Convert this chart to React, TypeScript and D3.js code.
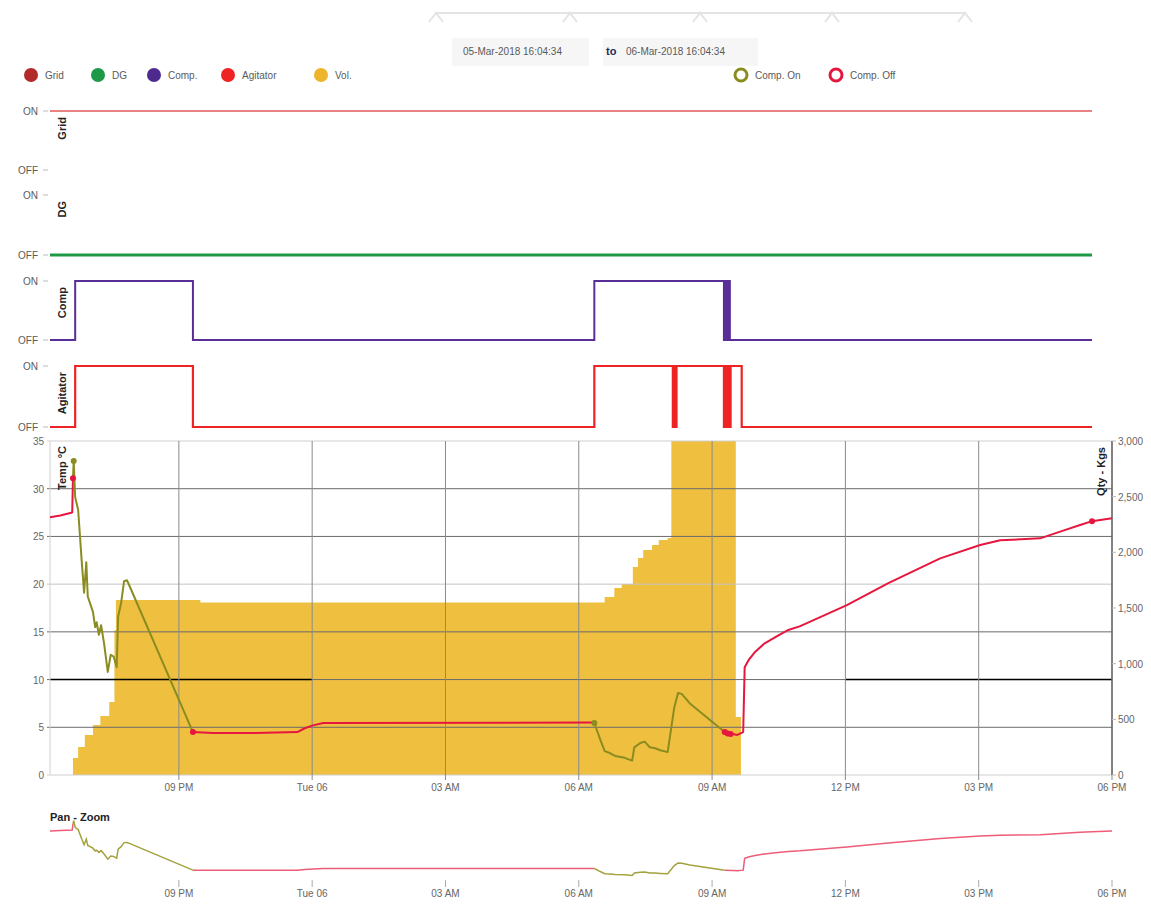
import React from 'react';
import * as d3 from 'd3';

const parse = d3.timeParse('%Y-%m-%d %H:%M');
const D = (s: string) => parse(s) as Date;

// ---------- data ----------
const timeDomain = ['2018-03-05 18:06', '2018-03-06 18:00'];
const dateFrom = '05-Mar-2018 16:04:34';
const dateTo = '06-Mar-2018 16:04:34';

const legendItems = ['Grid', 'DG', 'Comp.', 'Agitator', 'Vol.'];
const markerLegend = ['Comp. On', 'Comp. Off'];

const gridStatus: [string, number][] = [
  ['2018-03-05 18:06', 1], ['2018-03-06 17:33', 1],
];
const dgStatus: [string, number][] = [
  ['2018-03-05 18:06', 0], ['2018-03-06 17:33', 0],
];
const compStatus: [string, number][] = [
  ['2018-03-05 18:06', 0], ['2018-03-05 18:40', 1], ['2018-03-05 21:19', 0],
  ['2018-03-06 06:21', 1], ['2018-03-06 09:16', 0], ['2018-03-06 09:17', 1],
  ['2018-03-06 09:18', 0], ['2018-03-06 09:19', 1], ['2018-03-06 09:20', 0],
  ['2018-03-06 09:21', 1], ['2018-03-06 09:22', 0], ['2018-03-06 09:23', 1],
  ['2018-03-06 09:24', 0], ['2018-03-06 17:33', 0],
];
const agitatorStatus: [string, number][] = [
  ['2018-03-05 18:06', 0], ['2018-03-05 18:40', 1], ['2018-03-05 21:19', 0],
  ['2018-03-06 06:21', 1], ['2018-03-06 08:07', 0], ['2018-03-06 08:08', 1],
  ['2018-03-06 08:09', 0], ['2018-03-06 08:10', 1], ['2018-03-06 08:11', 0],
  ['2018-03-06 08:12', 1], ['2018-03-06 09:16', 0], ['2018-03-06 09:17', 1],
  ['2018-03-06 09:18', 0], ['2018-03-06 09:19', 1], ['2018-03-06 09:20', 0],
  ['2018-03-06 09:21', 1], ['2018-03-06 09:22', 0], ['2018-03-06 09:23', 1],
  ['2018-03-06 09:24', 0], ['2018-03-06 09:25', 1], ['2018-03-06 09:40', 0],
  ['2018-03-06 17:33', 0],
];

const volumeKg: [string, number][] = [
  ['2018-03-05 18:37', 153], ['2018-03-05 18:44', 251], ['2018-03-05 18:53', 359],
  ['2018-03-05 19:04', 449], ['2018-03-05 19:14', 530], ['2018-03-05 19:26', 656],
  ['2018-03-05 19:33', 1300], ['2018-03-05 19:35', 1572], ['2018-03-05 21:29', 1550],
  ['2018-03-06 06:35', 1599], ['2018-03-06 06:48', 1680],
  ['2018-03-06 06:58', 1716], ['2018-03-06 07:13', 1868], ['2018-03-06 07:20', 1949],
  ['2018-03-06 07:27', 2021], ['2018-03-06 07:39', 2066], ['2018-03-06 07:48', 2111],
  ['2018-03-06 08:00', 2129], ['2018-03-06 08:05', 3000], ['2018-03-06 09:32', 520],
  ['2018-03-06 09:39', 0],
];

// temperature segments (compressor off = red, on = olive)
const tempOff1: [string, number][] = [
  ['2018-03-05 18:06', 27.0], ['2018-03-05 18:20', 27.2], ['2018-03-05 18:36', 27.5],
  ['2018-03-05 18:37', 31.1],
];
const tempOn1: [string, number][] = [
  ['2018-03-05 18:37', 31.1], ['2018-03-05 18:38', 32.9], ['2018-03-05 18:40', 29.1],
  ['2018-03-05 18:44', 27.8], ['2018-03-05 18:49', 22.2], ['2018-03-05 18:52', 19.1],
  ['2018-03-05 18:55', 22.3], ['2018-03-05 18:57', 18.7], ['2018-03-05 19:04', 17.1],
  ['2018-03-05 19:07', 15.5], ['2018-03-05 19:09', 16.0], ['2018-03-05 19:12', 14.7],
  ['2018-03-05 19:15', 15.7], ['2018-03-05 19:19', 13.8], ['2018-03-05 19:24', 10.8],
  ['2018-03-05 19:28', 12.6], ['2018-03-05 19:32', 12.4], ['2018-03-05 19:36', 11.3],
  ['2018-03-05 19:38', 16.6], ['2018-03-05 19:42', 18.0], ['2018-03-05 19:46', 20.3],
  ['2018-03-05 19:50', 20.4], ['2018-03-05 19:54', 19.7], ['2018-03-05 21:19', 4.5],
];
const tempOff2: [string, number][] = [
  ['2018-03-05 21:19', 4.5], ['2018-03-05 21:46', 4.4], ['2018-03-05 22:43', 4.4],
  ['2018-03-05 23:40', 4.5], ['2018-03-05 23:50', 4.9], ['2018-03-06 00:01', 5.2],
  ['2018-03-06 00:15', 5.45], ['2018-03-06 06:21', 5.5],
];
const tempOn2: [string, number][] = [
  ['2018-03-06 06:21', 5.45], ['2018-03-06 06:29', 3.7], ['2018-03-06 06:35', 2.5],
  ['2018-03-06 06:42', 2.3], ['2018-03-06 06:49', 2.0], ['2018-03-06 07:02', 1.8],
  ['2018-03-06 07:12', 1.5], ['2018-03-06 07:15', 2.9], ['2018-03-06 07:23', 3.35],
  ['2018-03-06 07:29', 3.5], ['2018-03-06 07:36', 2.9], ['2018-03-06 07:43', 2.8],
  ['2018-03-06 07:50', 2.6], ['2018-03-06 08:00', 2.4], ['2018-03-06 08:09', 7.1],
  ['2018-03-06 08:14', 8.6], ['2018-03-06 08:19', 8.5], ['2018-03-06 08:30', 7.5],
  ['2018-03-06 09:17', 4.5],
];
const tempOff3: [string, number][] = [
  ['2018-03-06 09:17', 4.5], ['2018-03-06 09:28', 4.3], ['2018-03-06 09:34', 4.2],
  ['2018-03-06 09:42', 4.5], ['2018-03-06 09:44', 11.3], ['2018-03-06 09:49', 12.0],
  ['2018-03-06 09:58', 12.9], ['2018-03-06 10:11', 13.8], ['2018-03-06 10:29', 14.6],
  ['2018-03-06 10:43', 15.2], ['2018-03-06 10:59', 15.6], ['2018-03-06 12:02', 17.8],
  ['2018-03-06 12:58', 20.1], ['2018-03-06 14:08', 22.7], ['2018-03-06 15:02', 24.1],
  ['2018-03-06 15:29', 24.6], ['2018-03-06 16:23', 24.8], ['2018-03-06 16:50', 25.5],
  ['2018-03-06 17:17', 26.2], ['2018-03-06 17:33', 26.6], ['2018-03-06 18:00', 26.9],
];
const compOnMarkers: [string, number][] = [
  ['2018-03-05 18:38', 32.9], ['2018-03-06 06:21', 5.45],
];
const compOffMarkers: [string, number][] = [
  ['2018-03-05 18:37', 31.1], ['2018-03-05 21:19', 4.5], ['2018-03-06 09:17', 4.5],
  ['2018-03-06 09:21', 4.35], ['2018-03-06 09:25', 4.3], ['2018-03-06 17:33', 26.6],
];

const tempTicks = [0, 5, 10, 15, 20, 25, 30, 35];
const qtyTicks = [0, 500, 1000, 1500, 2000, 2500, 3000];

// ---------- layout / style ----------
const FONT = 'Liberation Sans, Arial, sans-serif';
const X0 = 50, X1 = 1112;
const MAIN_TOP = 441, MAIN_BOT = 775;
const PAN_TOP = 817, PAN_BOT = 878;
const C = {
  grid: '#B22A2A', gridLine: '#E25A5A', dg: '#1E9A46', comp: '#4E2A8E', compLine: '#5A2E97',
  agit: '#EE2424', vol: '#EDB52C', volFill: '#EFBF40', on: '#8B8C20', off: '#E6173F',
  text: '#5a5a5a',
};
const legendColors = [C.grid, C.dg, C.comp, C.agit, C.vol];
const legendX = [31, 98, 154, 228, 321];

const x = d3.scaleTime().domain(timeDomain.map(D)).range([X0, X1]);
const yTemp = d3.scaleLinear().domain([0, 35]).range([MAIN_BOT, MAIN_TOP]);
const yQty = d3.scaleLinear().domain([0, 3000]).range([MAIN_BOT, MAIN_TOP]);
const yPan = d3.scaleLinear().domain([0, 35]).range([PAN_BOT, PAN_TOP]);

const statusRows = [
  { label: 'Grid', data: gridStatus, on: 111, off: 170, color: C.gridLine, w: 1.5 },
  { label: 'DG', data: dgStatus, on: 195, off: 255, color: C.dg, w: 3 },
  { label: 'Comp', data: compStatus, on: 281, off: 340, color: C.compLine, w: 2 },
  { label: 'Agitator', data: agitatorStatus, on: 366, off: 427, color: C.agit, w: 2.2 },
];

const fmt = (d: Date) =>
  d.getHours() === 0 ? d3.timeFormat('%a %d')(d) : d3.timeFormat('%I %p')(d);
const xTicks = x.ticks(d3.timeHour.every(3) as any);

export default function App() {
  const tempLine = d3.line<[string, number]>().x(d => x(D(d[0]))).y(d => yTemp(d[1]));
  const panLine = d3.line<[string, number]>().x(d => x(D(d[0]))).y(d => yPan(d[1]));
  const volArea = d3.area<[string, number]>()
    .x(d => x(D(d[0]))).y0(yQty(0)).y1(d => yQty(d[1])).curve(d3.curveStepAfter);

  const tempSegs: { data: [string, number][]; color: string }[] = [
    { data: tempOff1, color: C.off }, { data: tempOn1, color: C.on },
    { data: tempOff2, color: C.off }, { data: tempOn2, color: C.on },
    { data: tempOff3, color: C.off },
  ];

  const tabs = [436, 570, 700, 832, 965];

  return (
    <svg width={1151} height={904} style={{ position: 'absolute', left: 0, top: 0, background: '#fff' }}
      fontFamily={FONT}>
      {/* top tabs */}
      <line x1={tabs[0]} x2={tabs[tabs.length - 1]} y1={13} y2={13} stroke="#e4e4e4" strokeWidth={2} />
      {tabs.map((t, i) => (
        <path key={i} d={`M${t - 7},22 L${t},13 L${t + 7},22`}
          fill="none" stroke="#e4e4e4" strokeWidth={2} />
      ))}
      {/* date range */}
      <rect x={452} y={38} width={137} height={28} fill="#f6f6f6" />
      <text x={463} y={55} fontSize={10} fill={C.text}>{dateFrom}</text>
      <rect x={603} y={38} width={155} height={28} fill="#f6f6f6" />
      <text x={606} y={55} fontSize={11} fontWeight="bold" fill="#1d2b5c">to</text>
      <text x={626} y={55} fontSize={10} fill={C.text}>{dateTo}</text>

      {/* legend */}
      {legendItems.map((l, i) => (
        <g key={l}>
          <circle cx={legendX[i]} cy={75} r={7} fill={legendColors[i]} />
          <text x={legendX[i] + 14} y={79} fontSize={10} fill={C.text}>{l}</text>
        </g>
      ))}
      {markerLegend.map((l, i) => (
        <g key={l}>
          <circle cx={741 + i * 95} cy={75} r={6} fill="none" stroke={i === 0 ? C.on : C.off} strokeWidth={3} />
          <text x={755 + i * 95} y={79} fontSize={10} fill={C.text}>{l}</text>
        </g>
      ))}

      {/* status rows */}
      {statusRows.map(r => {
        const ys = d3.scaleLinear().domain([0, 1]).range([r.off, r.on]);
        const ln = d3.line<[string, number]>().x(d => x(D(d[0]))).y(d => ys(d[1])).curve(d3.curveStepAfter);
        return (
          <g key={r.label}>
            {[1, 0].map(v => (
              <g key={v}>
                <line x1={43} x2={48} y1={ys(v)} y2={ys(v)} stroke="#bbb" />
                <text x={38} y={ys(v) + 4} fontSize={10} textAnchor="end" fill={C.text}>{v ? 'ON' : 'OFF'}</text>
              </g>
            ))}
            <path d={ln(r.data) || ''} fill="none" stroke={r.color} strokeWidth={r.w} />
            <text transform={`translate(66,${r.on + 6}) rotate(-90)`} textAnchor="end" fontSize={11}
              fontWeight="bold" fill="#222">{r.label}</text>
          </g>
        );
      })}

      {/* main chart */}
      <path d={volArea(volumeKg) || ''} fill={C.volFill} />
      {tempTicks.map(t => (
        <g key={t}>
          <line x1={47} x2={X1} y1={yTemp(t)} y2={yTemp(t)}
            stroke={t === 0 || t === 35 ? '#cfcfcf' : t === 20 ? '#c4c4c4' : '#6a6a6a'} strokeWidth={1} />
          <text x={44} y={yTemp(t) + 4} fontSize={10} textAnchor="end" fill="#666">{t}</text>
        </g>
      ))}
      <line x1={X0} x2={x(xTicks[1])} y1={yTemp(10)} y2={yTemp(10)} stroke="#000" strokeWidth={1.6} />
      <line x1={x(xTicks[5])} x2={X1} y1={yTemp(10)} y2={yTemp(10)} stroke="#000" strokeWidth={1.6} />
      {xTicks.map((t, i) => (
        <g key={i}>
          <line x1={x(t)} x2={x(t)} y1={MAIN_TOP} y2={780} stroke="#8a8a8a" strokeWidth={1} />
          <text x={x(t)} y={791} fontSize={10} textAnchor="middle" fill="#666">{fmt(t)}</text>
        </g>
      ))}
      <line x1={X0} x2={X0} y1={MAIN_TOP} y2={MAIN_BOT} stroke="#d0d0d0" />
      <line x1={X1} x2={X1} y1={MAIN_TOP} y2={MAIN_BOT} stroke="#555" strokeWidth={1.2} />
      {qtyTicks.map(q => (
        <g key={q}>
          <line x1={X1} x2={X1 + 4} y1={yQty(q)} y2={yQty(q)} stroke="#bbb" />
          <text x={1118} y={yQty(q) + 4} fontSize={10} fill="#666">{d3.format(',')(q)}</text>
        </g>
      ))}
      {tempSegs.map((s, i) => (
        <path key={i} d={tempLine(s.data) || ''} fill="none" stroke={s.color} strokeWidth={2} strokeLinejoin="round" />
      ))}
      {compOnMarkers.map((m, i) => (
        <circle key={'on' + i} cx={x(D(m[0]))} cy={yTemp(m[1])} r={3} fill={C.on} />
      ))}
      {compOffMarkers.map((m, i) => (
        <circle key={'off' + i} cx={x(D(m[0]))} cy={yTemp(m[1])} r={3} fill={C.off} />
      ))}
      <text transform={`translate(66,${MAIN_TOP + 5}) rotate(-90)`} textAnchor="end" fontSize={11}
        fontWeight="bold" fill="#222">Temp °C</text>
      <text transform={`translate(1105,${MAIN_TOP + 6}) rotate(-90)`} textAnchor="end" fontSize={11}
        fontWeight="bold" fill="#222">Qty - Kgs</text>

      {/* pan - zoom */}
      <text x={50} y={821} fontSize={11} fontWeight="bold" fill="#222">Pan - Zoom</text>
      {tempSegs.map((s, i) => (
        <path key={'p' + i} d={panLine(s.data) || ''} fill="none"
          stroke={s.color === C.on ? '#A3A23E' : '#EE5C78'} strokeWidth={1.5} />
      ))}
      {xTicks.map((t, i) => (
        <g key={'pt' + i}>
          <line x1={x(t)} x2={x(t)} y1={880} y2={887} stroke="#aaa" />
          <text x={x(t)} y={897} fontSize={10} textAnchor="middle" fill="#666">{fmt(t)}</text>
        </g>
      ))}
    </svg>
  );
}
